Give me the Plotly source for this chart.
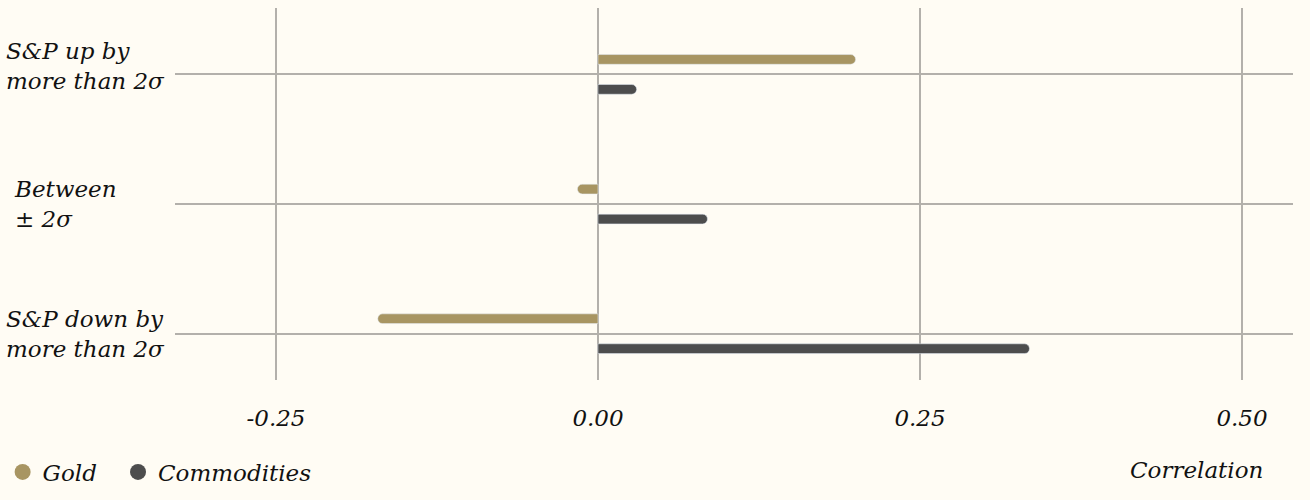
import plotly.graph_objects as go

categories = ["S&P up by<br>more than 2σ", "Between<br>± 2σ", "S&P down by<br>more than 2σ"]
gold = [0.20, -0.016, -0.171]
commodities = [0.030, 0.085, 0.335]
tick_vals = [-0.25, 0.0, 0.25, 0.50]
tick_text = ["-0.25", "0.00", "0.25", "0.50"]

GOLD = "#a89562"
DARK = "#4d4d4d"
BG = "#fffcf4"
GRID = "#b3b0ab"
FONT = "DejaVu Serif"
FS = 23

fig = go.Figure()
fig.add_trace(go.Bar(
    y=categories, x=gold, orientation="h", name="Gold",
    marker=dict(color=GOLD, cornerradius="50%"),
    width=0.075, offset=-0.153, showlegend=False,
))
fig.add_trace(go.Bar(
    y=categories, x=commodities, orientation="h", name="Commodities",
    marker=dict(color=DARK, cornerradius="50%"),
    width=0.075, offset=0.078, showlegend=False,
))
# legend entries with round markers (extra space after Gold widens the gap)
for name, col in [("Gold\u2002\u2009", GOLD), ("Commodities", DARK)]:
    fig.add_trace(go.Scatter(x=[None], y=[None], mode="markers", name=name,
                             marker=dict(color=col, size=19, symbol="circle")))

# left-aligned category labels
shifts = [(0, 8), (8, 0), (0, 0)]
for cat, (dx, dy) in zip(categories, shifts):
    fig.add_annotation(
        x=0, xref="paper", xshift=-171 + dx, y=cat, yref="y", yshift=dy,
        text=cat, showarrow=False, xanchor="left", align="left",
        font=dict(family=FONT, size=FS, color="#111111", style="italic"),
    )

fig.add_annotation(
    x=1, xref="paper", xshift=-28, y=-0.242, yref="paper",
    text="Correlation", showarrow=False, xanchor="right", yanchor="middle",
    font=dict(family=FONT, size=FS, color="#111111", style="italic"),
)

fig.update_layout(
    width=1310, height=500,
    paper_bgcolor=BG, plot_bgcolor=BG,
    margin=dict(l=175, r=17, t=8, b=120),
    barmode="overlay",
    font=dict(family=FONT, size=FS, color="#111111", style="italic"),
    legend=dict(orientation="h", xref="container", x=0.002, xanchor="left",
                yref="container", y=0.056, yanchor="middle",
                bgcolor="rgba(0,0,0,0)", font=dict(size=FS, style="italic"),
                itemwidth=30, tracegroupgap=0),
    xaxis=dict(
        range=[-0.3284, 0.5396], tickvals=tick_vals, ticktext=tick_text,
        showgrid=True, gridcolor=GRID, gridwidth=1.5,
        zeroline=True, zerolinecolor=GRID, zerolinewidth=1.5,
        showline=False, ticks="", ticklabelstandoff=22,
        tickfont=dict(family=FONT, size=FS, style="italic"),
    ),
    yaxis=dict(
        categoryorder="array", categoryarray=categories,
        range=[2.357, -0.512], showgrid=True, gridcolor=GRID, gridwidth=1.5,
        showticklabels=False, zeroline=False, showline=False,
    ),
)

fig.write_html("out.html", config={"displayModeBar": False},
               post_script="document.body.style.margin='0';")
